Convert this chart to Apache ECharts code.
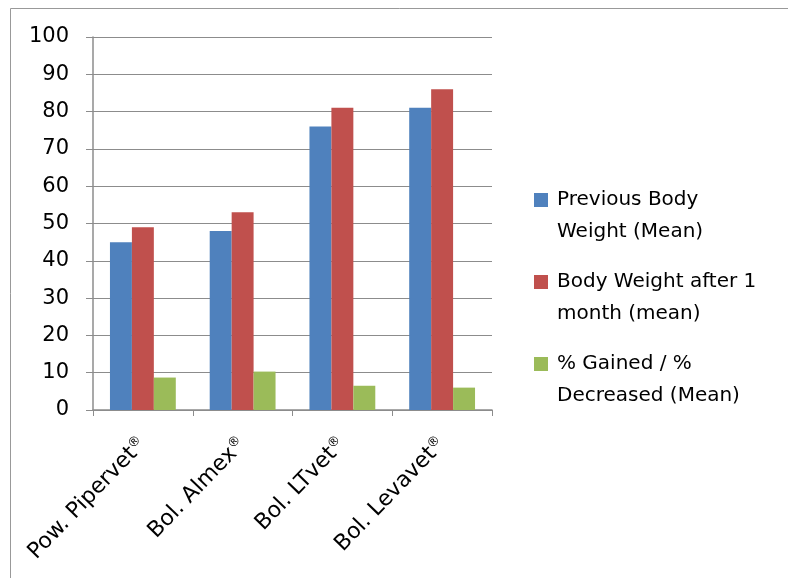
<!DOCTYPE html>
<html>
<head>
<meta charset="utf-8">
<script src="https://cdn.jsdelivr.net/npm/echarts@6/dist/echarts.min.js"></script>
<style>
  html, body { margin: 0; padding: 0; background: #fff; }
  #chart { width: 788px; height: 578px; }
</style>
</head>
<body>
<div id="chart"></div>
<script>
var categories = ['Pow. Pipervet', 'Bol. Almex', 'Bol. LTvet', 'Bol. Levavet'];
var seriesNames = ['Previous Body\nWeight (Mean)', 'Body Weight after 1\nmonth (mean)', '% Gained / %\nDecreased (Mean)'];
var previousWeight = [45, 48, 76, 81];
var weightAfterMonth = [49, 53, 81, 86];
var gainedPercent = [8.7, 10.3, 6.5, 6.0];
var colors = ['#4F81BD', '#C0504D', '#9BBB59'];

var chartDom = document.getElementById('chart');
var myChart = echarts.init(chartDom);
var font = '"DejaVu Sans", sans-serif';
var gridColor = '#8c8c8c';

var option = {
    animation: false,
    color: colors,
    textStyle: { fontFamily: font },
    graphic: [
        {
            type: 'rect',
            shape: { x: 10.5, y: 8.5, width: 800, height: 600 },
            style: { fill: 'none', stroke: '#999', lineWidth: 1 }
        }
    ],
    grid: {
        left: 93,
        right: 296,
        top: 37,
        bottom: 168,
        outerBoundsMode: 'none'
    },
    legend: {
        orient: 'vertical',
        left: 534,
        top: 152,
        padding: 0,
        itemWidth: 14,
        itemHeight: 14,
        itemGap: -14,
        icon: 'rect',
        // empty first line so the marker sits beside the first text line
        formatter: function(name) {
            return '\n' + name;
        },
        textStyle: {
            fontFamily: font,
            fontSize: 20,
            lineHeight: 32,
            color: '#000',
            padding: [0, 0, 0, 4]
        },
        data: seriesNames
    },
    xAxis: {
        type: 'category',
        data: categories,
        axisLine: { lineStyle: { color: gridColor, width: 1.5 } },
        axisTick: { show: true, length: 6, lineStyle: { color: gridColor } },
        axisLabel: {
            rotate: 46,
            margin: 31,
            fontFamily: font,
            fontSize: 22,
            color: '#000',
            formatter: function(value) {
                return value + '{sup|®}';
            },
            rich: {
                sup: { fontSize: 13, verticalAlign: 'top', padding: [0, 0, 10, 0] }
            }
        }
    },
    yAxis: {
        type: 'value',
        min: 0,
        max: 100,
        interval: 10,
        axisLine: { show: true, lineStyle: { color: gridColor, width: 1.5 } },
        axisTick: { show: true, length: 7, lineStyle: { color: gridColor } },
        splitLine: { lineStyle: { color: gridColor, width: 1 } },
        axisLabel: {
            margin: 24,
            fontFamily: font,
            fontSize: 21,
            color: '#000'
        }
    },
    series: [
        {
            name: seriesNames[0],
            type: 'bar',
            data: previousWeight,
            barGap: '0%',
            barCategoryGap: '34%'
        },
        {
            name: seriesNames[1],
            type: 'bar',
            data: weightAfterMonth
        },
        {
            name: seriesNames[2],
            type: 'bar',
            data: gainedPercent
        }
    ]
};

option && myChart.setOption(option);
</script>
</body>
</html>
